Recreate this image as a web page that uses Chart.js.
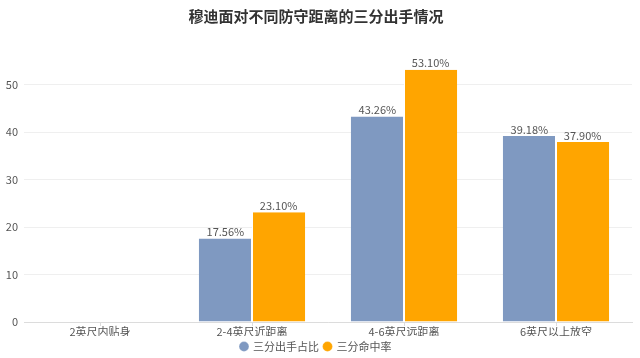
<!DOCTYPE html>
<html><head><meta charset="utf-8">
<script src="https://cdn.jsdelivr.net/npm/chart.js@4/dist/chart.umd.min.js"></script>
<style>html,body{margin:0;padding:0;background:#fff}#w{width:640px;height:358px}</style>
</head><body><div id="w"><canvas id="c"></canvas></div>
<script>
const categories = ['2英尺内贴身', '2-4英尺近距离', '4-6英尺远距离', '6英尺以上放空'];
const shotShare = [null, 17.56, 43.26, 39.18];
const hitRate = [null, 23.10, 53.10, 37.90];
const seriesNames = ['三分出手占比', '三分命中率'];
const titleText = '穆迪面对不同防守距离的三分出手情况';
const FONT = '"Microsoft YaHei","Noto Sans CJK SC","Noto Sans",sans-serif';

const labelPlugin = {
  id: 'barLabels',
  afterDatasetsDraw(chart) {
    const ctx = chart.ctx;
    ctx.save();
    ctx.font = '11px ' + FONT;
    ctx.fillStyle = '#555';
    ctx.textAlign = 'center';
    ctx.textBaseline = 'bottom';
    chart.data.datasets.forEach((ds, i) => {
      const meta = chart.getDatasetMeta(i);
      meta.data.forEach((bar, j) => {
        const v = ds.data[j];
        if (v === null || v === undefined) return;
        ctx.fillText(v.toFixed(2) + '%', bar.x, bar.y - 1);
      });
    });
    ctx.restore();
  }
};

new Chart(document.getElementById('c'), {
  type: 'bar',
  data: {
    labels: categories,
    datasets: [
      { label: seriesNames[0], data: shotShare, backgroundColor: '#7f99c1', borderColor: '#ffffff', borderWidth: {left:0,right:1,top:0,bottom:0}, categoryPercentage: 0.70, barPercentage: 1.0 },
      { label: seriesNames[1], data: hitRate, backgroundColor: '#ffa500', borderColor: '#ffffff', borderWidth: {left:1,right:0,top:0,bottom:0}, categoryPercentage: 0.70, barPercentage: 1.0 }
    ]
  },
  options: {
    responsive: true,
    maintainAspectRatio: false,
    animation: false,
    layout: { padding: { left: 0, right: 8, bottom: 0 } },
    plugins: {
      title: { display: true, text: titleText, color: '#333', font: { size: 15, weight: 'bold', family: FONT }, padding: { top: 7, bottom: 12 } },
      legend: { position: 'bottom', maxHeight: 22, labels: { usePointStyle: true, pointStyle: 'circle', boxWidth: 7, boxHeight: 7, color: '#555', font: { size: 11, family: FONT }, padding: 5 } },
      tooltip: { enabled: false }
    },
    scales: {
      x: {
        afterFit(s) { s.height = 14; },
        grid: { display: true, drawOnChartArea: false, offset: false, tickLength: 4, color: '#dcdcdc' },
        border: { color: '#dcdcdc' },
        ticks: { color: '#555', font: { size: 11, family: FONT }, padding: -1 }
      },
      y: {
        min: 0, max: 60,
        afterFit(s) { s.width = 24; },
        grid: { color: ctx => ctx.tick && ctx.tick.value === 60 ? 'rgba(0,0,0,0)' : '#efefef', drawTicks: false },
        border: { display: false },
        ticks: { stepSize: 10, color: '#555', font: { size: 11, family: FONT }, padding: 6, callback: v => v === 60 ? '' : v }
      }
    }
  },
  plugins: [labelPlugin]
});
</script></body></html>
